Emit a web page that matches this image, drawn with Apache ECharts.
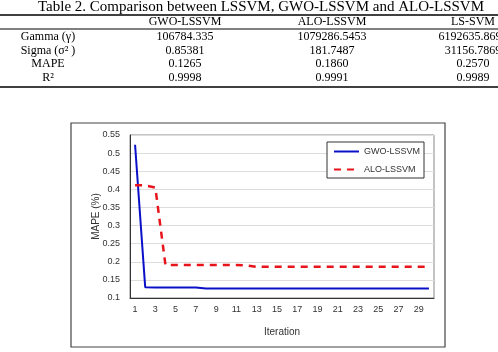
<!DOCTYPE html>
<html><head><meta charset="utf-8">
<script src="https://cdn.jsdelivr.net/npm/echarts@6/dist/echarts.min.js"></script>
<style>html,body{margin:0;padding:0;background:#fff}#c{width:498px;height:352px}</style>
</head><body><div id="c"></div>
<script>
var tableTitle = 'Table 2. Comparison between LSSVM, GWO-LSSVM and ALO-LSSVM';
var tableHeaders = ['', 'GWO-LSSVM', 'ALO-LSSVM', 'LS-SVM'];
var rowLabels = ['Gamma (γ)', 'Sigma (σ² )', 'MAPE', 'R²'];
var colGWO = ['106784.335', '0.85381', '0.1265', '0.9998'];
var colALO = ['1079286.5453', '181.7487', '0.1860', '0.9991'];
var colLS = ['6192635.8696', '31156.7869', '0.2570', '0.9989'];

var iterations = [];
for (var i = 1; i <= 30; i++) iterations.push(String(i));
var gwo = [0.523, 0.130, 0.129, 0.129, 0.129, 0.129, 0.129, 0.126, 0.126, 0.126,
           0.126, 0.126, 0.126, 0.126, 0.126, 0.126, 0.126, 0.126, 0.126, 0.126,
           0.126, 0.126, 0.126, 0.126, 0.126, 0.126, 0.126, 0.126, 0.126, 0.126];
var alo = [0.411, 0.411, 0.405, 0.191, 0.191, 0.191, 0.191, 0.191, 0.191, 0.191,
           0.191, 0.190, 0.186, 0.186, 0.186, 0.186, 0.186, 0.186, 0.186, 0.186,
           0.186, 0.186, 0.186, 0.186, 0.186, 0.186, 0.186, 0.186, 0.186, 0.186];

var serif = '"Liberation Serif","Times New Roman",serif';
var sans = '"Liberation Sans",Arial,sans-serif';
var colX = [48, 185, 332, 473];
var rowY = [37, 51, 64, 78];
var g = [];
g.push({type:'text', x:261, y:7, style:{text:tableTitle, font:'15px '+serif, fill:'#000', textAlign:'center', textVerticalAlign:'middle'}});
g.push({type:'line', shape:{x1:0,y1:15,x2:498,y2:15}, style:{stroke:'#000', lineWidth:1.5}});
g.push({type:'line', shape:{x1:0,y1:29,x2:498,y2:29}, style:{stroke:'#000', lineWidth:1}});
g.push({type:'line', shape:{x1:0,y1:87,x2:498,y2:87}, style:{stroke:'#000', lineWidth:1.5}});
for (var c = 1; c < tableHeaders.length; c++) {
  g.push({type:'text', x:colX[c], y:22, style:{text:tableHeaders[c], font:'12px '+serif, fill:'#000', textAlign:'center', textVerticalAlign:'middle'}});
}
var cols = [rowLabels, colGWO, colALO, colLS];
for (var c2 = 0; c2 < cols.length; c2++) {
  for (var r = 0; r < cols[c2].length; r++) {
    g.push({type:'text', x:colX[c2], y:rowY[r], style:{text:cols[c2][r], font:'12px '+serif, fill:'#000', textAlign:'center', textVerticalAlign:'middle'}});
  }
}
g.push({type:'rect', shape:{x:71,y:123,width:374,height:224}, style:{fill:null, stroke:'#444', lineWidth:1.2}, z:-1});

var chart = echarts.init(document.getElementById('c'), null, {renderer:'canvas'});
chart.setOption({
  animation:false,
  backgroundColor:'#fff',
  graphic:g,
  grid:{left:130, top:135, right:64, bottom:54, show:true, borderColor:'#888', borderWidth:1},
  legend:{
    orient:'vertical', left:327, top:142,
    backgroundColor:'#fff', borderColor:'#333', borderWidth:1,
    padding:[5,4,4,6], itemWidth:25, itemHeight:8, itemGap:9,
    itemStyle:{opacity:0},
    textStyle:{fontFamily:sans, fontSize:9, color:'#333'},
    data:['GWO-LSSVM','ALO-LSSVM']
  },
  xAxis:{
    type:'category', data:iterations, boundaryGap:true,
    name:'Iteration', nameLocation:'middle', nameGap:29,
    nameTextStyle:{fontFamily:sans, fontSize:10, color:'#333'},
    axisLine:{lineStyle:{color:'#333', width:1}},
    axisTick:{show:false},
    axisLabel:{interval:1, fontFamily:sans, fontSize:9, color:'#333', margin:7}
  },
  yAxis:{
    type:'value', min:0.1, max:0.55, interval:0.05,
    name:'MAPE (%)', nameLocation:'middle', nameGap:29, nameRotate:90,
    nameMoveOverlap:false,
    nameTextStyle:{fontFamily:sans, fontSize:10, color:'#333'},
    axisLine:{show:true, lineStyle:{color:'#333', width:1}},
    axisTick:{show:false},
    splitLine:{lineStyle:{color:'#ddd', width:1}},
    axisLabel:{fontFamily:sans, fontSize:9, color:'#333', margin:10}
  },
  series:[
    {name:'GWO-LSSVM', type:'line', data:gwo, symbol:'none', lineStyle:{color:'#0a10c8', width:2}, itemStyle:{color:'#0a10c8'}},
    {name:'ALO-LSSVM', type:'line', data:alo, symbol:'none', lineStyle:{color:'#e8141c', width:2.5, type:[7,6]}, itemStyle:{color:'#e8141c'}}
  ]
});
</script></body></html>
